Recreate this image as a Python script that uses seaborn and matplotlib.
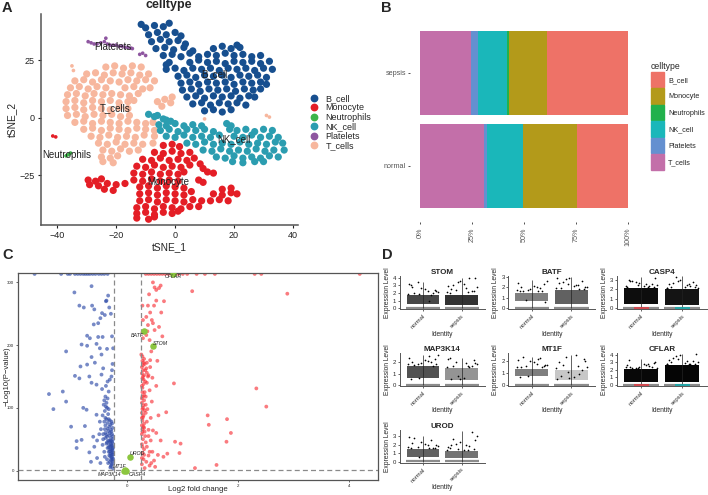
import matplotlib
matplotlib.use("Agg")
import matplotlib.pyplot as plt
from matplotlib.lines import Line2D
from matplotlib.patches import Patch
import pandas as pd
import seaborn as sns

W, H = 708, 495
sns.set_style("white")
plt.rcParams["font.family"] = ["Liberation Sans", "DejaVu Sans"]
plt.rcParams["axes.unicode_minus"] = True

# ---------- Panel A: points (a thinned sample of the picture)
celltypes = ["B_cell", "Monocyte", "Neutrophils", "NK_cell", "Platelets", "T_cells"]
B_cell_pts = [(-10,39),(-7,40),(-4,39.5),(-2,41),(-9,36),(-6,37),(-3,36),(0,37),(2,35.5),(-8,33),(-5,34),(-2,33),(1,33.5),(3.5,32),
(-6.5,30),(-3.5,30.5),(-.5,29.5),(3,30.5),(6,29),(13,30),(16,31),(19,30),(22,30.5),(-4,27),(-1,27.5),(2,26.5),(5,28),(8,26.5),(11,27.5),(14,27),(17,28),(20,27),(23,27.5),(26,26.5),(29,27),
(-2,24),(5,24),(8,25),(11,24),(14,24.5),(17,23.5),(20,24.5),(23,24),(26,24.5),(29,23.5),(32,24.5),(-3,21),(0,21.5),(3,20.5),(6,21.5),(9,21),(12,21.5),(15,20.5),(18,21.5),(21,21),(24,21.5),(27,20.5),(30,21.5),(33,21),
(1,18),(4,18.5),(7,17.5),(10,18.5),(13,18),(16,18.5),(19,17.5),(22,18.5),(25,18),(28,18.5),(31,17.5),(2,15),(5,15.5),(8,14.5),(11,15.5),(14,15),(17,15.5),(20,14.5),(23,15.5),(26,15),(29,15.5),(31,14.5),
(2.5,12),(5.5,12.5),(8.5,11.5),(11.5,12.5),(14.5,12),(17.5,12.5),(20.5,11.5),(23.5,12.5),(26.5,12),(29,12.5),(4,9),(7,9.5),(10,8.5),(13,9.5),(16,9),(19,9.5),(22,8.5),(25,9.5),(27,9),
(6,6),(9,6.5),(12,5.5),(15,6.5),(18,6),(21,6.5),(24,5.5),(10,3),(13,3.5),(16,2.5),(19,3.5),(-11.5,40.5),(-3,23),(21,31.5)]
Monocyte_pts = [(-4,-12),(-1,-11.5),(1.5,-12.5),(-7,-15),(-4,-15.5),(-1,-14.5),(2,-15.5),(5,-15),(-11,-18),(-8,-18.5),(-5,-17.5),(-2,-18.5),(1,-18),(4,-18.5),(6.5,-17.5),
(-13,-21),(-10,-21.5),(-7,-20.5),(-4,-21.5),(-1,-21),(2,-21.5),(5,-20.5),(8.5,-20),(9.5,-22),(-14,-24),(-11,-24.5),(-8,-23.5),(-5,-24.5),(-2,-24),(1,-24.5),(3,-23.5),(11,-23.5),(13,-24),
(-29.5,-27),(-27,-27.5),(-25,-26.5),(-14,-27),(-11,-27.5),(-8,-26.5),(-5,-27.5),(-2,-27),(1,-27.5),(8,-27),(9.5,-28),(-29,-29),(-26,-29.5),(-23,-28.5),(-20,-29),(-17,-28.5),(-12,-30),(-9,-29.5),(-6,-30.5),(-3,-29.5),(0,-30),(3,-30.5),
(-24,-31),(-21,-31.5),(-12,-33),(-9,-32.5),(-6,-33.5),(-3,-32.5),(0,-33),(3,-33.5),(5.5,-32),(16,-31),(19,-30.5),(13,-33),(16,-33.5),(19,-32.5),(21,-33),(-12,-36),(-9,-35.5),(-6,-36.5),(-3,-35.5),(0,-36),(3,-36.5),(6,-35.5),(9,-36),(12,-36),(15,-35.5),(18,-36),
(-13,-39),(-10,-38.5),(-7,-39.5),(-4,-38.5),(-1,-39),(2,-39.5),(5,-38.5),(8,-38.5),(-13,-41.5),(-10,-41),(-7,-42),(-4,-41),(-1,-41.5),(1,-40.5),(-13,-43.5),(-9,-44),(-7,-43)]
Neutrophils_pts = [(-37,-16.5),(-36.2,-16),(-35.5,-15.3)]
NK_cell_pts = [(-9,1.5),(-7,.5),(-6,1),(-4,-.5),(-3,-1),(-1.5,-1.5),(-5.5,-3),(-3,-3.5),(0,-2.5),(3,-3.5),(6,-3),(9,-3.5),(17.5,-2.5),(19,-3.5),
(-5,-5.5),(-2,-5),(1,-6),(4,-5),(7,-5.5),(10,-5),(13,-6),(18.5,-5),(21,-5.5),(24,-5),(27,-6),(30,-5),(33,-5.5),(-3,-8),(0,-8.5),(3,-7.5),(6,-8.5),(9,-8),(12,-8.5),(15,-7.5),(20,-8),(23,-8.5),(26,-7.5),(29,-8.5),(32,-8),(35,-8.5),
(4,-11),(7,-11.5),(10,-10.5),(13,-11.5),(16,-11),(19,-11.5),(22,-10.5),(25,-11.5),(28,-11),(31,-11.5),(34,-10.5),(36.5,-11),(9.5,-14),(12.5,-14.5),(15.5,-13.5),(18.5,-14.5),(21.5,-14),(24.5,-14.5),(27.5,-13.5),(30.5,-14.5),(33.5,-14),(37,-14),
(14,-17),(17,-17.5),(20,-16.5),(23,-17.5),(26,-17),(29,-17.5),(32,-16.5),(35,-17),(19.5,-19),(23,-19.5),(27,-19),(30,-19)]
Platelets_pts = [(-29.5,33),(-28.5,32.5),(-27.5,32),(-26.5,32),(-25.2,32.5),(-24,33),(-23.5,34.5),(-23,32),(-22,31.5),(-21,31.5),(-20,31.5),(-19,31),(-18,31),(-17,30.5),(-16,30.5),(-15,30.2),(-14.5,30),(-12,27.5),(-11,28),(-10,27)]
T_cells_pts = [(-23.5,22),(-20.5,22.5),(-17.5,21.5),(-14.5,22.5),(-11.5,22),(-30,19),(-27,19.5),(-24,18.5),(-21,19.5),(-18,19),(-15,19.5),(-12,18.5),(-9,19),(-34,16),(-31,16.5),(-28,15.5),(-25,16.5),(-22,16),(-19,15.5),(-16,16.5),(-13,16),(-10,16.5),(-7,16),
(-35.5,13),(-32.5,13.5),(-29.5,12.5),(-26.5,13.5),(-23.5,13),(-17,13),(-14,13.5),(-11,12.5),(-8.5,13),(-36.5,10),(-33.5,10.5),(-30.5,9.5),(-27.5,10.5),(-24.5,10),(-21.5,10.5),(-18.5,10),(-15.5,9.5),(-12.5,10.5),
(-37,7),(-34,7.5),(-31,6.5),(-28,7.5),(-25,7),(-22,7.5),(-19,6.5),(-16,7),(-14,7.5),(-37,4),(-34,4.5),(-31,3.5),(-28,4.5),(-25,4),(-22,3.5),(-19,4.5),(-16,4),(-6,7),(-3.5,8),(-1.5,6.5),(-4.5,5),(-1,9),
(-36.5,1),(-33.5,1.5),(-30.5,.5),(-27.5,1.5),(-24.5,1),(-21.5,1.5),(-18.5,.5),(-15.5,1),(-34,-2),(-31,-1.5),(-28,-2.5),(-25,-1.5),(-22,-2),(-19,-2.5),(-16,-1.5),(-13,-2),(-10,-2.5),(-7.5,-2),
(-31,-5),(-28,-4.5),(-25,-5.5),(-22,-4.5),(-19,-5),(-16,-5.5),(-13,-4.5),(-10,-5),(-7,-5.5),(-28.5,-8),(-25.5,-8.5),(-22.5,-7.5),(-19.5,-8.5),(-16.5,-8),(-13.5,-8.5),(-10.5,-7.5),(-7,-8),
(-26,-11),(-23,-11.5),(-20,-10.5),(-17,-11.5),(-14,-11),(-11,-11.5),(-7.5,-11),(-24.5,-14),(-21.5,-14.5),(-18.5,-13.5),(-15.5,-14.5),(-12.5,-14),(-25,-17),(-22,-17.5),(-19.5,-16.5),(-24.5,-19),(-21,-19.5)]
T_cells_outliers = [(-35,22.5),(-34.5,20.5),(31,1),(32,.3),(10,-.5)]
Monocyte_outliers = [(-41.5,-7.9),(-40.5,-8.3)]
map_labels = ["B_cell", "T_cells", "NK_cell", "Monocyte", "Neutrophils", "Platelets"]
map_label_x = [13.4, -20.5, 19.8, -2.2, -36.7, -21]
map_label_y = [19, 4.3, -9.3, -28, -16.2, 30.6]

# ---------- Panel B
groups = ["sepsis", "normal"]
sepsis_share = [39.1, 18.3, 0.9, 14.1, 3.2, 24.4]
normal_share = [24.7, 25.9, 0.0, 17.2, 1.6, 30.6]
bar_ticks = [0, 25, 50, 75, 100]

# ---------- Panel C
blue_pts = [(-.65,294),(-.96,284),(-.87,263),(-.79,260),(-.64,263),(-.6,257),(-.35,279),(-.38,271),(-.39,270),(-.33,260),(-.46,251),(-.41,248),(-.3,250),(-.49,243),(-.53,235),(-.61,233),(-.73,215),(-.68,211),(-.53,213),(-.45,213),(-.83,201),(-.73,199),(-.28,214),(-.56,202),(-.5,195),(-.37,194),(-.26,195),(-1.11,190),(-.65,181),(-.47,185),(-.85,166),(-.73,169),(-.59,172),(-.27,170),(-.95,151),(-.87,147),(-.69,150),(-.65,140),(-.44,163),(-.47,153),(-.56,137),(-.32,145),(-1.42,122),(-1.17,126),(-1.11,110),(-1.34,98),(-.8,100),(-.74,97),(-.56,89),(-1.02,70),(-.77,71),(-.92,47),(-.83,49),(-.92,36),(-.69,29),(-.62,54),(-.55,48),(-.6,38),(-.51,58),(-.66,14),(-.55,20),(-.49,12),(-.42,30),(-.45,41),(-.28,160),(-.29,150),(-.36,142),(-.4,118),(-.42,112),(-.38,108),(-.43,105),(-.37,100),(-.41,95),(-.35,90),(-.45,88),(-.38,82),(-.32,80),(-.29,78),(-.36,76),(-.4,72),(-.33,70),(-.27,68),(-.3,65),(-.35,63),(-.4,60),(-.28,58),(-.33,56),(-.37,54),(-.3,52),(-.26,50),(-.35,48),(-.31,46),(-.27,44),(-.38,43),(-.33,41),(-.29,39),(-.26,37),(-.36,36),(-.31,34),(-.27,32),(-.34,30),(-.29,28),(-.26,26),(-.33,24),(-.28,22),(-.26,19),(-.3,17),(-.27,14),(-.35,12),(-.29,9),(-.31,5),(-.26,3),(-.37,18),(-.41,22),(-.44,50),(-.48,66),(-.5,78),(-.46,130),(-.39,135),(-.34,126),
(-.28,75),(-.31,73),(-.36,67),(-.29,62),(-.32,60),(-.38,57),(-.27,55),(-.3,48),(-.33,47),(-.28,46),(-.37,45),(-.3,42),(-.28,40),(-.31,38),(-.34,37),(-.27,35),(-.29,33),(-.32,31),(-.27,29),(-.31,27),(-.28,25),(-.31,23),(-.29,20),(-.27,17),(-.32,14),(-.28,11),(-.3,7),(-.34,82),(-.4,84),(-.36,115),(-.39,102),(-.34,98),(-.42,78),(-.41,66),(-.44,58),(-.4,52)]
red_pts = [(.46,300),(.6,295),(.49,292),(.57,291),(.52,288),(.39,281),(1.17,286),(2.89,282),(.52,271),(.66,270),(.27,263),(.37,263),(.48,263),(.61,252),(.34,245),(.28,240),(.46,235),(.57,229),(.37,232),(.49,224),(.34,216),(.28,211),(.63,214),(.4,208),(.27,182),(.43,190),(.54,175),(.3,178),(.35,172),(.28,168),(.41,165),(.32,160),(.26,155),(.38,152),(.45,148),(.29,145),(.35,140),(.52,135),(.27,132),(.4,128),(.31,125),(.84,139),(2.33,131),(2.51,102),(1.45,88),(1.8,82),(1.47,73),(1.87,60),(1.79,46),(.86,46),(.96,43),(.94,28),(.72,27),(.7,93),(1.22,4),(1.61,9),(.27,118),(.3,112),(.26,108),(.33,105),(.28,100),(.31,96),(.26,92),(.29,88),(.56,88),(.42,84),(.27,80),(.35,78),(.26,72),(.3,68),(.38,65),(.46,64),(.52,60),(.27,62),(.32,55),(.28,50),(.42,48),(.6,48),(.26,42),(.35,38),(.3,34),(.45,30),(.55,25),(.27,28),(.38,24),(.65,22),(.29,18),(.34,14),(.48,16),(.26,10),(.4,8),(.31,4),(.5,6),(.28,150),(.33,118),(.26,135),(.44,110),(.36,98),(.28,85),(.3,75),(.26,58),(.33,45),(.4,30),(.26,20),
(.27,175),(.29,172),(.26,165),(.31,170),(.34,163),(.28,160),(.3,152),(.35,156),(.27,147),(.32,142),(.29,138),(.27,125),(.3,120),(.26,115),(.29,104),(.27,98),(.33,92),(.26,84),(.29,70),(.27,66),(.31,62),(.38,55),(.27,38),(.3,25),(.43,12),(.37,150),(.41,176),(.25,185),(.27,220),(.36,222),(.44,240),(.41,252)]
top_blue_x = [-1.68,-1.2,-1.08,-1.04,-.95,-.9,-.85,-.8,-.76,-.72,-.68,-.63,-.58,-.52,-.47,-.42,-.36]
top_red_x = [.33,.38,.43,.48,.53,.58,.63,.68,.74,.8,.86,.92,1.0,1.08,1.25,1.4,1.58,2.3,2.42,4.2]
top_value = 313.5
genes = ["CFLAR", "BATF", "STOM", "UROD", "MT1F", "MAP3K14", "CASP4"]
gene_x = [.82, .3, .46, .05, -.04, -.06, -.03]
gene_y = [313, 222, 198, 21, 1, 0, 0]
gene_text_x = [.83, .18, .6, .17, -.14, -.32, .18]
gene_text_y = [309, 215, 203, 27, 6, -7, -7]

# ---------- Panel D
panel_titles = ["STOM", "BATF", "CASP4", "MAP3K14", "MT1F", "CFLAR", "UROD"]
panel_yticks = [[0,1,2,3,4],[0,1,2,3],[0,1,2,3],[0,1,2],[0,1,2],[0,1,2,3,4],[0,1,2,3]]
panel_ytop = [4.25, 3.1, 3.45, 2.8, 2.7, 4.2, 3.7]
band_low = [(.5,.4),(.7,.4),(.45,.4),(.6,.4),(.8,.4),(.4,.35),(.6,.4)]
band_high = [(1.7,1.8),(1.45,1.7),(2.2,2.05),(1.65,1.5),(1.35,1.25),(2.1,2.6),(1.5,1.25)]
band_density = [(.72,.8),(.5,.62),(.95,.92),(.68,.42),(.5,.22),(.97,.98),(.62,.55)]
spike_top = [(3.4,3.9),(2.7,3.0),(3.3,3.4),(2.6,2.4),(2.4,2.5),(3.4,4.1),(3.0,3.6)]
jitter_offsets = [-.38,.12,-.22,.31,-.05,.39,-.31,.2,-.14,.06,.26,-.36,.34,-.09,-.27,.16]
STOM_values = [[1.9,2.2,2.0,2.4,2.7,2.1,3.0,1.8,3.4,2.5,2.0,3.2,2.3,1.9,2.8,.9],[2.1,2.6,3.0,2.3,3.5,2.8,2.0,3.9,2.4,3.2,2.2,2.9,4.0,3.4,2.5,2.1]]
BATF_values = [[1.7,2.0,1.6,2.3,1.8,2.6,1.65,1.9,.75,2.1,1.6,2.4,.6,1.75,2.0,1.6],[1.9,2.2,2.5,1.8,2.9,2.0,2.4,1.85,2.8,2.1,2.6,2.9,2.0,2.3,1.9,2.2]]
CASP4_values = [[2.4,2.6,2.9,2.3,2.7,2.5,3.0,2.35,2.8,2.4,2.6,2.3,3.2,2.5,2.9,2.3],[2.2,2.5,2.7,2.3,3.0,2.2,2.6,2.4,3.3,2.3,2.8,2.2,2.5,2.9,2.3,2.6]]
MAP3K14_values = [[1.8,2.1,1.75,2.3,1.9,2.6,.55,2.0,1.8,2.2,1.7,2.4,1.85,.6,2.0,2.5],[1.6,1.9,1.7,2.2,.5,1.8,2.4,1.6,2.0,.6,1.7,2.3,1.9,.8,.5,1.65]]
MT1F_values = [[1.5,1.8,2.4,1.6,2.0,1.7,.7,2.3,1.6,1.9,1.5,2.1,1.7,.75,1.55,2.2],[1.4,2.5,1.7,2.2,.6,1.5,1.9,.9,2.4,.7,1.3,.5,2.0,1.1,.8,1.6]]
CFLAR_values = [[2.3,2.6,2.2,2.9,2.4,2.2,3.3,2.5,2.2,2.8,2.3,2.6,3.0,2.2,2.4,2.7],[2.8,3.1,3.6,2.7,4.0,3.0,3.3,2.8,3.8,2.9,3.2,2.7,4.1,3.4,3.0,2.8]]
UROD_values = [[1.7,2.0,2.8,1.6,2.3,1.8,1.55,2.5,1.7,2.1,1.6,2.9,1.9,.6,2.2,1.6],[1.4,1.9,2.7,1.5,2.3,3.0,1.6,1.8,2.1,1.4,3.5,1.7,2.5,1.5,2.0,1.4]]
panel_values = [STOM_values, BATF_values, CASP4_values, MAP3K14_values, MT1F_values, CFLAR_values, UROD_values]
identity = ["normal", "sepsis"]

# ---------- styles
map_colors = dict(zip(celltypes, ["#174F8F", "#E41E26", "#3DB54A", "#2B9DB0", "#8E56A0", "#F7B79E"]))
bar_colors = dict(zip(celltypes, ["#EE7267", "#B39A1A", "#22B14C", "#1AB7BA", "#6490D0", "#C36FA9"]))
SPINE = "#555555"

def axpx(l, t, r, b):
    return fig.add_axes([l / W, 1 - b / H, (r - l) / W, (b - t) / H])

def pts_frame(**named):
    rows = []
    for k, v in named.items():
        rows += [(k, x, y) for x, y in v]
    return pd.DataFrame(rows, columns=["kind", "x", "y"])

def frame_axes(ax):
    sns.despine(ax=ax)
    for s in ("left", "bottom"):
        ax.spines[s].set_color(SPINE)

fig = plt.figure(figsize=(W / 100, H / 100), dpi=100)

# Panel A
axA = axpx(41, 14, 298, 225)
dfA = pts_frame(T_cells=T_cells_pts, NK_cell=NK_cell_pts, B_cell=B_cell_pts, Monocyte=Monocyte_pts)
sns.scatterplot(data=dfA, x="x", y="y", hue="kind", palette=map_colors, s=27, linewidth=0, legend=False, ax=axA)
dfA2 = pts_frame(Platelets=Platelets_pts, Neutrophils=Neutrophils_pts, Monocyte=Monocyte_outliers, T_cells=T_cells_outliers)
sns.scatterplot(data=dfA2, x="x", y="y", hue="kind", palette=map_colors, s=7, linewidth=0, legend=False, ax=axA)
for t, x, y in zip(map_labels, map_label_x, map_label_y):
    axA.text(x, y, t, ha="center", va="center", fontsize=7, color="#222222")
axA.set_xlim(-45.5, 41.7)
axA.set_ylim(-46.5, 45)
axA.set_xticks([-40, -20, 0, 20, 40])
axA.set_yticks([-25, 0, 25])
axA.tick_params(labelsize=6.5, length=2.5, width=.8, left=True, bottom=True, pad=2, colors="#222222")
axA.set_xlabel("tSNE_1", fontsize=7.3, labelpad=1.5)
axA.set_ylabel("tSNE_2", fontsize=7.3, labelpad=2)
frame_axes(axA)
for s in ("left", "bottom"):
    axA.spines[s].set_linewidth(1.1)
fig.text(169 / W, 1 - 5 / H, "celltype", ha="center", va="center", fontsize=9, fontweight="bold")
axA.legend(handles=[Line2D([], [], marker="o", ls="", ms=4.6, color=map_colors[c], label=c) for c in celltypes],
           loc="center left", bbox_to_anchor=(304.5 / W, 1 - 122 / H), bbox_transform=fig.transFigure,
           frameon=False, fontsize=6.5, labelspacing=.05, handletextpad=.3, borderpad=0, borderaxespad=0)

# Panel B
axB = axpx(410, 17, 638.7, 221.5)
shares = {"sepsis": sepsis_share, "normal": normal_share}
rows = []
for g in groups:
    cum = 100.0
    for c, v in zip(celltypes, shares[g]):
        rows.append((g, c, cum))
        cum -= v
dfB = pd.DataFrame(rows, columns=["group", "celltype", "cum"])
for c in celltypes:
    sns.barplot(data=dfB[dfB.celltype == c], x="cum", y="group", order=groups, color=bar_colors[c],
                width=.9, saturation=1, orient="h", ax=axB, linewidth=0)
axB.set_xlim(-5, 105)
axB.set_ylim(1.6, -.6)
axB.set_xticks(bar_ticks)
axB.set_xticklabels([f"{t}%" for t in bar_ticks], rotation=90, fontsize=5.2, color="#555555")
axB.tick_params(axis="x", length=1.5, width=.6, bottom=True, pad=3, color="#333333")
axB.tick_params(axis="y", length=1.5, width=.6, left=True, pad=1.5, labelsize=5.2, labelcolor="#555555", color="#333333")
axB.set_xlabel("")
axB.set_ylabel("")
sns.despine(ax=axB, left=True, bottom=True)
axB.legend(handles=[Patch(color=bar_colors[c], label=c) for c in celltypes], title="celltype",
           loc="upper left", bbox_to_anchor=(651 / W, 1 - 62 / H), bbox_transform=fig.transFigure, frameon=False,
           fontsize=5.2, title_fontsize=6.2, alignment="left", handlelength=1.75, handleheight=2.95,
           labelspacing=.12, handletextpad=.6, borderpad=0, borderaxespad=0)

# Panel C
axC = axpx(18, 273, 378, 480)
dfC = pts_frame(down=blue_pts + [(x, top_value) for x in top_blue_x], up=red_pts + [(x, top_value) for x in top_red_x])
sns.scatterplot(data=dfC, x="x", y="y", hue="kind", palette={"down": "#2F4BA8", "up": "#F8343B"}, s=7.5, alpha=.65,
                linewidth=0, legend=False, ax=axC)
sns.scatterplot(x=gene_x, y=gene_y, color="#8CC63F", s=22, linewidth=0, legend=False, ax=axC, zorder=3)
for t, x, y in zip(genes, gene_text_x, gene_text_y):
    axC.text(x, y, t, fontsize=3.8, style="italic", ha="center", va="center", color="#222222", zorder=4)
for xv in (-.25, .25):
    axC.axvline(xv, color="#8a8a8a", lw=.9, ls=(0, (4, 2.5)))
axC.axhline(1.3, color="#8a8a8a", lw=.9, ls=(0, (4, 2.5)))
axC.set_xlim(-1.98, 4.53)
axC.set_ylim(-15, 315)
axC.set_xticks([0, 2, 4])
axC.set_yticks([0, 100, 200, 300])
axC.tick_params(labelsize=3.2, length=1.5, width=.5, left=True, bottom=True, pad=1.5)
axC.set_xlabel("Log2 fold change", fontsize=5.6)
axC.set_ylabel("\u2212Log10(P\u2212value)", fontsize=5.6)
axC.xaxis.set_label_coords(.5, -6 / 207)
axC.yaxis.set_label_coords(-7.5 / 360, .5)
for s in axC.spines.values():
    s.set_color(SPINE)
    s.set_linewidth(.9)

# Panel D
col_edges = [(399.7, 485), (508.3, 595), (616.7, 706.7)]
row_edges = [(275.7, 309.3), (353, 386), (430, 462.7)]
for i, title in enumerate(panel_titles):
    l, r = col_edges[i % 3]
    t, b = row_edges[i // 3]
    ax = axpx(l, t, r, b)
    vals = panel_values[i]
    rowsD = []
    for k, pos in enumerate((1, 2)):
        ax.bar(pos, band_high[i][k] - band_low[i][k], bottom=band_low[i][k], width=.84, color="black",
               alpha=band_density[i][k], linewidth=0)
        ax.vlines(pos, 0, spike_top[i][k], color="#222222", lw=.5, zorder=3)
        ax.hlines(.03, pos - .44, pos + .44, color="#8c8c8c", lw=1.6, zorder=2)
        rowsD += [(pos + o, v) for o, v in zip(jitter_offsets, vals[k])]
    sns.scatterplot(x=[p[0] for p in rowsD], y=[p[1] for p in rowsD], color="black", s=1.5, linewidth=0, legend=False, ax=ax)
    if title in ("CASP4", "CFLAR"):
        ax.hlines(.07, .82, 1.18, color="#D8434A", lw=1.3, zorder=4)
        ax.hlines(.07, 1.82, 2.18, color="#1AA7A9", lw=1.3, zorder=4)
    ax.set_xlim(.4, 2.6)
    ax.set_ylim(-.12 * panel_ytop[i] / 4, panel_ytop[i])
    ax.set_xticks([1, 2])
    ax.set_xticklabels(identity, rotation=45, ha="right", rotation_mode="anchor", fontsize=4.3, color="#333333")
    ax.set_yticks(panel_yticks[i])
    ax.tick_params(axis="y", labelsize=4.3, length=1.5, width=.5, left=True, pad=1)
    ax.tick_params(axis="x", length=1.5, width=.5, bottom=True, pad=1.5)
    ax.set_title(title, fontsize=5.8, fontweight="bold", pad=1.5)
    ax.set_xlabel("Identity", fontsize=4.8, labelpad=.5)
    ax.set_ylabel("Expression Level", fontsize=4.8, labelpad=1.5)
    frame_axes(ax)
    for s in ("left", "bottom"):
        ax.spines[s].set_linewidth(.7)

for letter, x, y in [("A", 2, 8), ("B", 381, 8), ("C", 2, 255), ("D", 382, 255)]:
    fig.text(x / W, 1 - y / H, letter, fontsize=10.5, fontweight="bold", ha="left", va="center")

fig.savefig("out.png", dpi=100)
